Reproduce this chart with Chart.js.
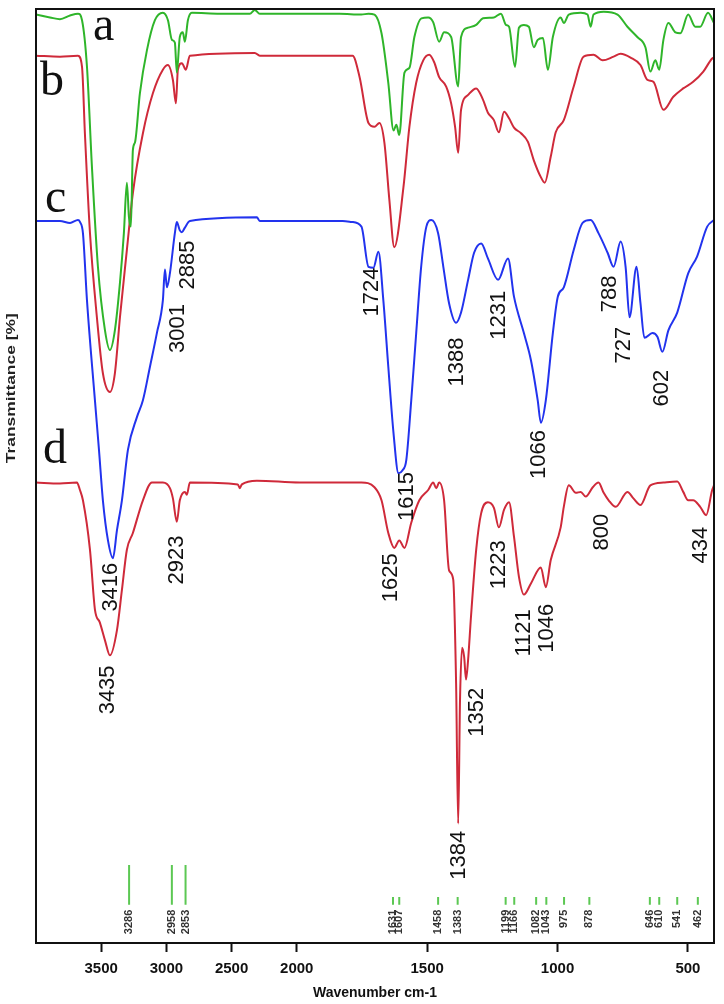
<!DOCTYPE html>
<html><head><meta charset="utf-8">
<script src="https://cdn.jsdelivr.net/npm/chart.js@4.4.1/dist/chart.umd.min.js"></script>
<style>html,body{margin:0;padding:0;background:#fff}canvas{display:block}</style>
</head><body>
<canvas id="c" width="724" height="1004"></canvas>
<script>
// ---------------- data ----------------
const xTickValues = [3500, 3000, 2500, 2000, 1500, 1000, 500];

const wavenumA = [4000,3893,3816,3739,3678,3647,3609,3571,3525,3471,3433,3395,3356,3326,3303,3287,3272,3257,3241,3203,3149,3088,3027,2988,2958,2935,2920,2897,2874,2858,2835,2805,2590,2360,2322,2284,1989,1836,1752,1725,1702,1675,1649,1629,1618,1607,1587,1568,1549,1522,1496,1477,1454,1435,1408,1381,1370,1343,1312,1286,1244,1217,1198,1186,1163,1148,1129,1110,1091,1076,1056,1037,1018,988,976,957,911,885,873,862,823,770,732,694,663,644,625,610,594,575,548,529,499,472,453,423,400];
const transA = [99.4,99.1,98.9,99.3,99.5,98.8,93.8,83.1,72.4,65.6,63.5,65.6,70.7,76.0,81.4,77.7,76.7,84.9,85.7,91.0,95.6,98.8,99.6,98.8,96.7,96.4,93.2,97.0,97.5,96.5,98.8,99.6,99.5,99.5,99.9,99.5,99.5,99.5,99.4,99.5,99.4,97.4,92.1,87.0,87.6,86.5,93.2,93.7,97.0,99.0,99.1,98.6,96.5,97.5,97.0,91.7,97.0,98.0,98.3,99.0,99.1,99.5,98.3,98.1,93.8,98.0,98.3,98.1,95.9,96.7,96.9,93.5,97.0,99.1,98.5,99.4,99.6,99.4,98.1,99.4,99.7,99.4,98.1,97.0,95.9,93.3,94.5,93.5,96.7,98.5,97.5,97.4,99.4,98.1,98.1,99.6,98.5];

const wavenumB = [4000,3816,3678,3647,3625,3586,3533,3487,3433,3395,3356,3303,3257,3180,3103,3027,2988,2950,2927,2912,2881,2851,2820,2322,2284,1786,1759,1725,1702,1683,1664,1645,1626,1591,1568,1542,1515,1492,1473,1454,1427,1408,1393,1381,1370,1343,1312,1286,1267,1244,1225,1205,1186,1167,1140,1114,1091,1064,1049,1026,1007,976,938,900,862,827,785,758,720,682,655,632,594,556,518,480,441,407,400];
const transB = [95.0,94.9,95.0,93.8,86.7,76.0,67.0,61.0,59.0,61.0,67.0,74.2,80.3,86.7,91.0,93.5,94.0,92.4,89.9,93.5,94.2,93.5,95.0,95.3,95.0,95.0,92.7,87.8,87.4,87.8,85.7,79.6,74.5,80.9,87.4,92.1,94.5,95.1,94.3,92.7,91.7,89.9,87.4,84.6,89.2,90.8,91.5,90.3,88.9,88.1,86.8,89.0,88.3,87.3,86.7,85.8,83.8,82.0,81.4,84.2,86.8,88.1,91.7,94.9,95.1,94.5,94.9,95.2,94.8,94.0,92.4,92.2,89.2,90.6,91.5,92.2,93.3,94.7,94.8];

const wavenumC = [4000,3816,3739,3678,3663,3640,3609,3548,3517,3487,3448,3410,3379,3341,3295,3226,3180,3126,3073,3027,3011,2996,2973,2935,2920,2897,2881,2858,2820,2306,2284,1824,1790,1752,1725,1706,1687,1668,1649,1629,1610,1595,1580,1561,1542,1523,1503,1484,1458,1438,1416,1389,1370,1343,1320,1293,1267,1228,1190,1167,1129,1102,1076,1064,1045,1018,999,976,938,904,873,843,808,785,758,739,724,697,682,667,636,617,598,575,541,499,465,426,400];
const transC = [77.3,77.3,77.1,77.4,77.2,76.0,68.8,58.1,52.8,47.4,43.1,41.2,44.2,47.4,52.8,56.3,58.1,61.7,65.3,68.8,72.1,70.2,71.7,76.0,77.2,76.3,76.1,76.6,77.3,77.7,77.3,77.3,77.2,76.7,72.4,72.3,74.0,68.8,61.7,54.6,50.3,50.6,51.7,58.1,65.3,72.4,76.7,77.4,76.0,72.4,68.5,66.4,67.5,71.0,73.9,74.9,73.3,71.0,73.3,69.2,65.3,62.4,58.1,55.7,58.1,65.3,69.2,70.2,74.2,77.1,77.4,76.0,73.9,72.4,75.1,72.4,67.0,72.4,68.5,64.8,65.3,64.9,63.3,65.6,67.5,71.7,73.5,76.7,77.4];

const wavenumD = [4000,3816,3686,3663,3640,3586,3548,3510,3471,3433,3379,3341,3303,3257,3180,3111,3027,2973,2950,2920,2897,2858,2843,2820,2452,2437,2421,2306,1989,1752,1702,1675,1649,1626,1607,1587,1561,1530,1496,1477,1465,1454,1435,1416,1400,1389,1381,1374,1366,1358,1351,1343,1332,1312,1293,1267,1244,1225,1205,1186,1167,1148,1129,1102,1064,1045,1026,988,976,957,930,911,892,865,843,823,804,777,732,709,682,644,594,541,518,499,480,453,430,407,400];
const transD = [49.3,49.2,49.3,48.5,47.4,42.1,35.7,34.3,32.4,30.8,33.5,37.8,42.1,43.9,47.4,49.3,49.3,48.7,47.6,45.1,47.4,48.3,48.0,49.3,49.1,48.7,49.1,49.5,49.3,49.3,48.8,47.4,43.9,42.3,43.1,42.3,45.0,47.4,48.5,49.3,48.7,49.3,47.4,39.9,38.9,27.8,12.8,26.0,31.6,30.6,28.2,30.3,34.9,42.1,46.0,47.2,46.6,44.5,46.4,47.2,43.5,39.2,37.3,38.5,40.2,38.1,41.0,44.5,46.7,49.0,48.2,48.3,47.8,48.8,49.3,48.2,47.4,46.7,48.3,47.6,46.9,49.0,49.3,49.4,48.3,47.4,47.4,46.7,45.8,48.5,49.0];

// reference stick markers (bottom)
const stickWavenum = [3286,2958,2853,1631,1607,1458,1383,1199,1166,1082,1043,975,878,646,610,541,462];
const stickTop     = [8.35,8.35,8.35,4.93,4.93,4.93,4.93,4.93,4.93,4.93,4.93,4.93,4.93,4.93,4.93,4.93,4.93];
const stickBase = 4.1;

// peak annotations: text, label-centre wavenumber, label-centre transmittance
const peakText = ['3001','2885','1724','1388','1231','1066','788','727','602','1615','3416','3435','2923','1625','1223','1121','1046','800','434','1352','1384'];
const peakX    = [2912,2835,1710,1385,1225,1072,800,747,598,1576,3425,3448,2920,1637,1225,1129,1041,831,449,1308,1377];
const peakY    = [65.8,72.6,69.7,62.2,67.2,52.3,69.5,64.0,59.4,47.8,38.1,27.1,41.0,39.1,40.5,33.2,33.7,44.0,42.6,24.7,9.4];

// curve letters: text, left wavenumber, baseline transmittance
const curveLetter = ['a','b','c','d'];
const letterX = [3563,3969,3931,3946];
const letterY = [96.7,90.8,78.3,51.4];

// ---------------- broken wavenumber axis (x2 expansion below 2000) ----------------
const W_MAX = 4000, W_BREAK = 2000, W_MIN = 400, EXPAND = 2;
function toU(w){ return w >= W_BREAK ? W_MAX - w : (W_MAX - W_BREAK) + EXPAND * (W_BREAK - w); }
function fromU(u){ return u <= (W_MAX - W_BREAK) ? W_MAX - u : W_BREAK - (u - (W_MAX - W_BREAK)) / EXPAND; }
const U_TOTAL = toU(W_MIN);
class BrokenWavenumberScale extends Chart.LinearScale {
  getPixelForValue(value){
    if (value === null || value === undefined || isNaN(value)) return NaN;
    return this.getPixelForDecimal(toU(value) / U_TOTAL);
  }
  getValueForPixel(pixel){ return fromU(this.getDecimalForPixel(pixel) * U_TOTAL); }
}
BrokenWavenumberScale.id = 'brokenWavenumber';
BrokenWavenumberScale.defaults = Chart.LinearScale.defaults;
Chart.register(BrokenWavenumberScale);

// ---------------- build datasets ----------------
const GREEN = '#2fb52a', RED = '#cf2a3a', BLUE = '#2233ee', STICK = '#5cc853';
function pts(ws, ts){ return ws.map((w, i) => ({x: w, y: ts[i]})); }
const stickData = [];
stickWavenum.forEach((w, i) => { stickData.push({x: w, y: stickBase}, {x: w, y: stickTop[i]}, {x: w, y: null}); });

const SANS = '"Liberation Sans", Arial, Helvetica, sans-serif';
const SERIF = '"Liberation Serif", "Times New Roman", serif';

const annotationPlugin = {
  id: 'annotations',
  afterDatasetsDraw(chart){
    const {ctx, chartArea} = chart;
    const xs = chart.scales.x, ys = chart.scales.y;
    ctx.save();
    // peak labels
    ctx.fillStyle = '#111';
    ctx.font = '22px ' + SANS;
    ctx.textAlign = 'center'; ctx.textBaseline = 'middle';
    peakText.forEach((t, i) => {
      ctx.save();
      ctx.translate(xs.getPixelForValue(peakX[i]), ys.getPixelForValue(peakY[i]));
      ctx.rotate(-Math.PI / 2);
      ctx.fillText(t, 0, 0);
      ctx.restore();
    });
    // stick labels
    ctx.font = 'bold 11px ' + SANS;
    ctx.fillStyle = '#333';
    ctx.textAlign = 'right';
    stickWavenum.forEach((w) => {
      ctx.save();
      ctx.translate(xs.getPixelForValue(w), ys.getPixelForValue(stickBase) + 5);
      ctx.rotate(-Math.PI / 2);
      ctx.fillText(String(w), 0, 0);
      ctx.restore();
    });
    // curve letters
    ctx.fillStyle = '#111';
    ctx.font = '48px ' + SERIF;
    ctx.textAlign = 'left'; ctx.textBaseline = 'alphabetic';
    curveLetter.forEach((t, i) => {
      ctx.fillText(t, xs.getPixelForValue(letterX[i]), ys.getPixelForValue(letterY[i]));
    });
    // y title
    ctx.save();
    ctx.font = 'bold 13px ' + SANS;
    ctx.fillStyle = '#222';
    ctx.textAlign = 'center'; ctx.textBaseline = 'middle';
    ctx.translate(chartArea.left - 24.5, ys.getPixelForValue(59.4));
    ctx.rotate(-Math.PI / 2);
    const tw = ctx.measureText('Transmittance [%]').width;
    ctx.scale(150 / tw, 1);
    ctx.fillText('Transmittance [%]', 0, 0);
    ctx.restore();
    // frame
    ctx.strokeStyle = '#111'; ctx.lineWidth = 2;
    ctx.strokeRect(chartArea.left, chartArea.top, chartArea.right - chartArea.left, chartArea.bottom - chartArea.top);
    ctx.restore();
  }
};

new Chart(document.getElementById('c'), {
  type: 'line',
  data: {
    datasets: [
      {label: 'a', data: pts(wavenumA, transA), borderColor: GREEN},
      {label: 'b', data: pts(wavenumB, transB), borderColor: RED},
      {label: 'c', data: pts(wavenumC, transC), borderColor: BLUE},
      {label: 'd', data: pts(wavenumD, transD), borderColor: RED},
      {label: 'ref', data: stickData, borderColor: STICK, borderWidth: 2, spanGaps: false, cubicInterpolationMode: 'default', tension: 0}
    ]
  },
  options: {
    responsive: false, animation: false, devicePixelRatio: 1,
    layout: {padding: {top: 9, right: 10, left: 0, bottom: 0}},
    plugins: {legend: {display: false}, tooltip: {enabled: false}},
    elements: {point: {radius: 0}, line: {borderWidth: 2, cubicInterpolationMode: 'monotone'}},
    scales: {
      x: {
        type: 'brokenWavenumber', position: 'bottom', min: W_MIN, max: W_MAX,
        afterBuildTicks: s => { s.ticks = xTickValues.map(v => ({value: v})); },
        afterFit: s => { s.height = 61; },
        ticks: {autoSkip: false, maxRotation: 0, padding: 8, color: '#111',
                font: {family: SANS, size: 15, weight: 'bold'}, callback: v => String(v)},
        grid: {display: true, drawOnChartArea: false, drawTicks: true, tickLength: 9, tickWidth: 2, tickColor: '#111'},
        border: {display: false},
        title: {display: true, text: 'Wavenumber cm-1', color: '#111',
                font: {family: SANS, size: 14, weight: 'bold'}, padding: {top: 0, bottom: 2}}
      },
      y: {
        type: 'linear', min: 0, max: 100,
        afterFit: s => { s.width = 36; },
        ticks: {display: false}, grid: {display: false}, border: {display: false}
      }
    }
  },
  plugins: [annotationPlugin]
});
</script>
</body></html>
